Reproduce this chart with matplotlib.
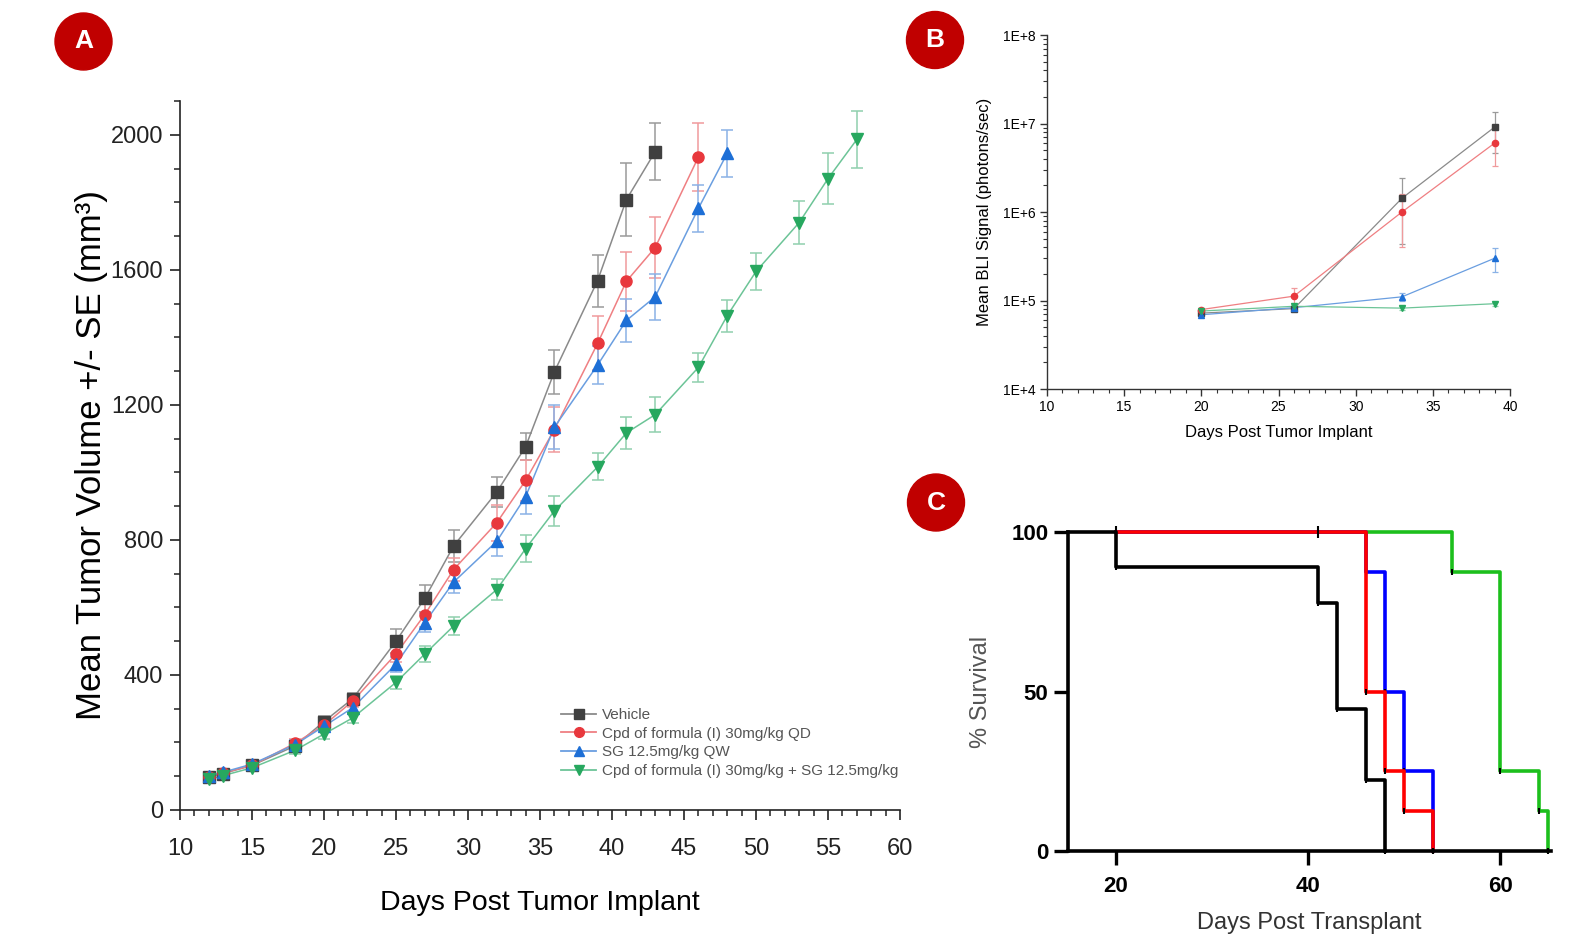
import matplotlib
matplotlib.use("Agg")
from matplotlib import pyplot as plt
from matplotlib.lines import Line2D
from matplotlib.patches import Ellipse
from matplotlib.ticker import MultipleLocator, LogLocator, NullFormatter, FixedLocator

W, H = 1595, 936

# ---- panel A: tumor volume ----
days_vehicle = [12, 13, 15, 18, 20, 22, 25, 27, 29, 32, 34, 36, 39, 41, 43]
vehicle = [98, 108, 132, 190, 262, 330, 500, 627, 782, 942, 1076, 1298, 1568, 1808, 1950]
vehicle_se = [8, 8, 10, 12, 15, 18, 35, 40, 48, 45, 40, 65, 77, 108, 85]

days_cpd = [12, 13, 15, 18, 20, 22, 25, 27, 29, 32, 34, 36, 39, 41, 43, 46]
cpd = [98, 110, 132, 198, 251, 323, 462, 579, 712, 851, 976, 1127, 1382, 1566, 1666, 1934]
cpd_se = [8, 8, 10, 12, 14, 18, 24, 37, 33, 53, 60, 66, 80, 88, 90, 100]

days_sg = [12, 13, 15, 18, 20, 22, 25, 27, 29, 32, 34, 36, 39, 41, 43, 46, 48]
sg = [100, 112, 136, 194, 248, 303, 432, 555, 675, 796, 928, 1134, 1318, 1450, 1520, 1782, 1945]
sg_se = [8, 8, 10, 12, 14, 16, 22, 28, 33, 45, 50, 66, 55, 63, 68, 70, 70]

days_combo = [12, 13, 15, 18, 20, 22, 25, 27, 29, 32, 34, 36, 39, 41, 43, 46, 48, 50, 53, 55, 57]
combo = [91, 102, 125, 177, 225, 273, 378, 462, 545, 653, 774, 886, 1016, 1117, 1171, 1311,
         1464, 1595, 1740, 1870, 1986]
combo_se = [8, 8, 10, 12, 14, 16, 20, 25, 27, 30, 40, 44, 40, 48, 51, 44, 48, 56, 64, 75, 83]

labels = ["Vehicle", "Cpd of formula (I) 30mg/kg QD", "SG 12.5mg/kg QW",
          "Cpd of formula (I) 30mg/kg + SG 12.5mg/kg"]

# ---- panel B: BLI signal ----
days_bli = [20, 26, 33, 39]
bli_vehicle = [7.2e4, 8.1e4, 1.43e6, 9.1e6]
bli_vehicle_se = [3e3, 3e3, 1.0e6, 4.5e6]
bli_cpd = [7.9e4, 1.12e5, 1.0e6, 6.0e6]
bli_cpd_se = [3e3, 2.8e4, 6.0e5, 2.7e6]
bli_sg = [6.9e4, 8.3e4, 1.1e5, 3.0e5]
bli_sg_se = [3e3, 3e3, 1.0e4, 9.0e4]
bli_combo = [7.6e4, 8.6e4, 8.2e4, 9.2e4]
bli_combo_se = [3e3, 3e3, 4e3, 5e3]

# ---- panel C: survival ----
surv_black_t = [15, 20, 41, 43, 46, 48]
surv_black = [100, 88.9, 77.8, 44.4, 22.2, 0]
surv_red_t = [20, 46, 48, 50, 53]
surv_red = [100, 50, 25, 12.5, 0]
surv_blue_t = [20, 46, 48, 50, 53]
surv_blue = [100, 87.5, 50, 25, 0]
surv_green_t = [20, 55, 60, 64, 65]
surv_green = [100, 87.5, 25, 12.5, 0]

mark_col = ["#404040", "#e8383d", "#1d6fd6", "#27a85f"]
line_col = ["#8a8a8a", "#ef7f82", "#6a9ee0", "#6cc497"]
err_col = ["#9a9a9a", "#f09a9c", "#8ab2e6", "#8fd0ad"]
markers = ["s", "o", "^", "v"]

arial = ["Liberation Sans", "DejaVu Sans"]


def frac(left, top, right, bottom):
    return [left / W, 1 - bottom / H, (right - left) / W, (bottom - top) / H]


def badge(fig, x, y, letter, r=28.5):
    fig.add_artist(Ellipse((x / W, 1 - y / H), 2 * r / W, 2 * r / H, color="#c00000",
                           transform=fig.transFigure))
    fig.text(x / W, 1 - y / H, letter, color="white", fontsize=19, fontweight="bold",
             ha="center", va="center", family=arial)


fig = plt.figure(figsize=(W / 100, H / 100), dpi=100)

# panel A
ax = fig.add_axes(frac(180, 101, 900, 810))
series = [(days_vehicle, vehicle, vehicle_se), (days_cpd, cpd, cpd_se),
          (days_sg, sg, sg_se), (days_combo, combo, combo_se)]
for i, (d, v, e) in enumerate(series):
    ax.errorbar(d, v, yerr=e, fmt="none", ecolor=err_col[i], elinewidth=1.1, capsize=4,
                capthick=1.1, zorder=2)
    ax.plot(d, v, color=line_col[i], lw=1.1, zorder=3)
    ax.plot(d, v, ls="none", marker=markers[i], ms=8, color=mark_col[i], zorder=4)
ax.set_xlim(10, 60)
ax.set_ylim(0, 2100)
ax.xaxis.set_major_locator(MultipleLocator(5))
ax.xaxis.set_minor_locator(MultipleLocator(1))
ax.yaxis.set_major_locator(FixedLocator([0, 400, 800, 1200, 1600, 2000]))
ax.yaxis.set_minor_locator(MultipleLocator(100))
for s in ["top", "right"]:
    ax.spines[s].set_visible(False)
for s in ["left", "bottom"]:
    ax.spines[s].set_linewidth(1.2)
    ax.spines[s].set_color("#222222")
ax.tick_params(which="major", direction="out", length=7, width=1.2, labelsize=17, pad=5,
               color="#222222", labelcolor="#222222")
ax.tick_params(axis="x", which="major", pad=13)
ax.tick_params(which="minor", direction="out", length=4, width=1.1, color="#222222")
for lab in ax.get_xticklabels() + ax.get_yticklabels():
    lab.set_family(arial)
ax.set_ylabel("Mean Tumor Volume +/- SE (mm³)", fontsize=25, family=arial)
ax.yaxis.set_label_coords(-0.1, 0.5)
ax.set_xlabel("Days Post Tumor Implant", fontsize=20.5, family=arial, labelpad=22)
handles = [Line2D([], [], color=line_col[i], lw=1.3, marker=markers[i], ms=7,
                  mfc=mark_col[i], mec=mark_col[i]) for i in range(4)]
ax.legend(handles, labels, loc="upper left", bbox_to_anchor=(0.51, 0.163), frameon=False,
          prop={"family": arial, "size": 11}, handlelength=2.3, handletextpad=0.4,
          labelspacing=0.3, labelcolor="#555555")

# panel B
bx = fig.add_axes(frac(1047, 35, 1510, 389))
bli = [(bli_vehicle, bli_vehicle_se), (bli_cpd, bli_cpd_se), (bli_sg, bli_sg_se),
       (bli_combo, bli_combo_se)]
for i, (v, e) in enumerate(bli):
    bx.errorbar(days_bli, v, yerr=e, fmt="none", ecolor=err_col[i], elinewidth=0.9,
                capsize=2.5, capthick=0.9, zorder=2)
    bx.plot(days_bli, v, color=line_col[i], lw=0.9, zorder=3)
    bx.plot(days_bli, v, ls="none", marker=markers[i], ms=4.5, color=mark_col[i], zorder=4)
bx.set_yscale("log")
bx.set_xlim(10, 40)
bx.set_ylim(1e4, 1e8)
bx.xaxis.set_major_locator(MultipleLocator(5))
bx.xaxis.set_minor_locator(MultipleLocator(1))
bx.yaxis.set_major_locator(LogLocator(base=10, numticks=10))
bx.yaxis.set_minor_locator(LogLocator(base=10, subs=range(2, 10), numticks=20))
bx.yaxis.set_minor_formatter(NullFormatter())
bx.set_yticks([1e4, 1e5, 1e6, 1e7, 1e8])
bx.set_yticklabels(["1E+4", "1E+5", "1E+6", "1E+7", "1E+8"])
for s in ["top", "right"]:
    bx.spines[s].set_visible(False)
for s in ["left", "bottom"]:
    bx.spines[s].set_linewidth(1.0)
    bx.spines[s].set_color("#333333")
bx.tick_params(which="major", direction="out", length=5, width=1.0, labelsize=10, pad=3,
               color="#333333")
bx.tick_params(which="minor", direction="out", length=3, width=0.8, color="#333333")
for lab in bx.get_xticklabels() + bx.get_yticklabels():
    lab.set_family(arial)
bx.set_ylabel("Mean BLI Signal (photons/sec)", fontsize=12, family=arial, labelpad=8)
bx.set_xlabel("Days Post Tumor Implant", fontsize=12, family=arial, labelpad=8)

# panel C: drawn back to front so red sits on top at 100 %
cx = fig.add_axes(frac(1068, 532, 1551, 851))
steps = [(surv_green_t, surv_green, "#1cbf1c"), (surv_blue_t, surv_blue, "#0000ff"),
         (surv_red_t, surv_red, "#ff0000"), (surv_black_t, surv_black, "black")]
for t, s, c in steps:
    cx.step(t + [t[-1]], s + [s[-1]], where="post", color=c, lw=2.6, clip_on=False)
    cx.plot(t[1:], s[1:], ls="none", marker="|", ms=5, mew=1.5, color="black", clip_on=False)
cx.plot([20, 41], [100, 100], ls="none", marker="|", ms=8, mew=1.5, color="black",
        clip_on=False)
cx.set_xlim(15, 65.3)
cx.set_ylim(0, 100)
cx.set_xticks([20, 40, 60])
cx.set_yticks([0, 50, 100])
for s in ["top", "right"]:
    cx.spines[s].set_visible(False)
for s in ["left", "bottom"]:
    cx.spines[s].set_linewidth(2.6)
cx.tick_params(direction="out", length=10, width=2.4, labelsize=16, pad=4)
cx.tick_params(axis="x", pad=8)
for lab in cx.get_xticklabels() + cx.get_yticklabels():
    lab.set_family(arial)
    lab.set_fontweight("bold")
cx.set_ylabel("% Survival", fontsize=17, family=arial, color="#555555", labelpad=14)
cx.set_xlabel("Days Post Transplant", fontsize=17, family=arial, color="#333333", labelpad=11)

badge(fig, 83.5, 41.5, "A")
badge(fig, 935, 40, "B")
badge(fig, 936, 502.5, "C")

fig.savefig("out.png", dpi=100)
